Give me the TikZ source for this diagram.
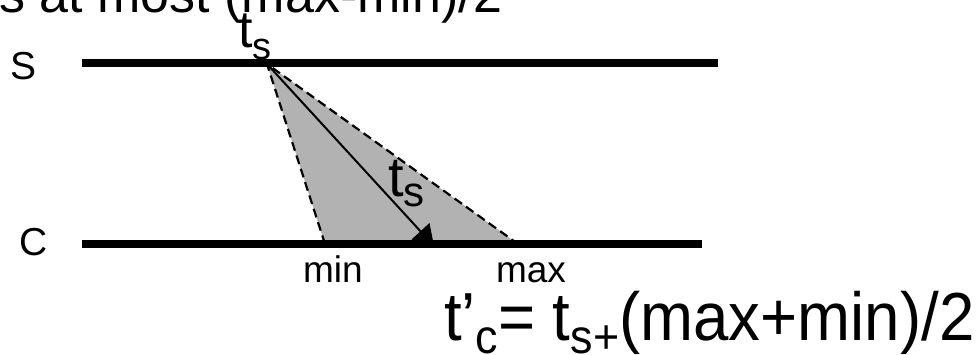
\documentclass[tikz,border=0pt]{standalone}
\usepackage{graphicx}
\usepackage{fontspec}
\setmainfont{Liberation Sans}
\usetikzlibrary{arrows.meta}
\tikzset{
  timeline/.style={line width=7.5pt},
  bound/.style={line width=2.2pt, dash pattern=on 9pt off 5pt},
  msg/.style={line width=2pt, -{Triangle[length=20pt,width=24pt]}},
  txt/.style={inner sep=0pt, outer sep=0pt},
}
\newcommand{\mysub}[3]{\raisebox{-#1pt}{\fontsize{#2}{#2}\selectfont #3}}
\begin{document}
\begin{tikzpicture}[x=1pt,y=-1pt]
\useasboundingbox (0,0) rectangle (979,355);
\clip (0,0) rectangle (979,355);
\coordinate (sL) at (82,63);
\coordinate (sR) at (718,63);
\coordinate (cL) at (82,244);
\coordinate (cR) at (702,244);
\coordinate (ts) at (267,64);
\coordinate (mn) at (325,244);
\coordinate (mx) at (518,244);
\coordinate (tc) at (434,246);
% range of possible arrival times
\fill[black!30] (ts) -- (mn) -- (mx) -- cycle;
\draw[bound] (mn) -- (ts) -- (mx);
\draw[msg] (ts) -- (tc);
% labels
\node[txt, anchor=base east, font=\fontsize{52}{52}\selectfont] (title) at (502,13) {s at most (max-min)/2};
\node[txt, anchor=base west, font=\fontsize{52}{52}\selectfont] (tstop) at (238,48) {t\mysub{12}{38}{s}};
\node[txt, anchor=base west, font=\fontsize{56}{56}\selectfont] (tsmid) at (388,197) {t\mysub{10}{42}{s}};
\node[txt, anchor=base west, font=\fontsize{39}{39}\selectfont] (Slab) at (10,80) {S};
\node[txt, anchor=base west, font=\fontsize{39}{39}\selectfont] (Clab) at (19,255) {C};
\node[txt, anchor=base west, font=\fontsize{37}{37}\selectfont] (minlab) at (303,282) {min};
\node[txt, anchor=base west, font=\fontsize{37}{37}\selectfont] (maxlab) at (496,282) {max};
\node[txt, anchor=base west, font=\fontsize{68}{68}\selectfont] (formula) at (444,340) {\scalebox{0.935}[1]{t’\mysub{13}{48}{c}= t\mysub{13}{48}{s+}(max+min)/2}};
% timelines
\draw[timeline] (sL) -- (sR);
\draw[timeline] (cL) -- (cR);
\end{tikzpicture}
\end{document}
